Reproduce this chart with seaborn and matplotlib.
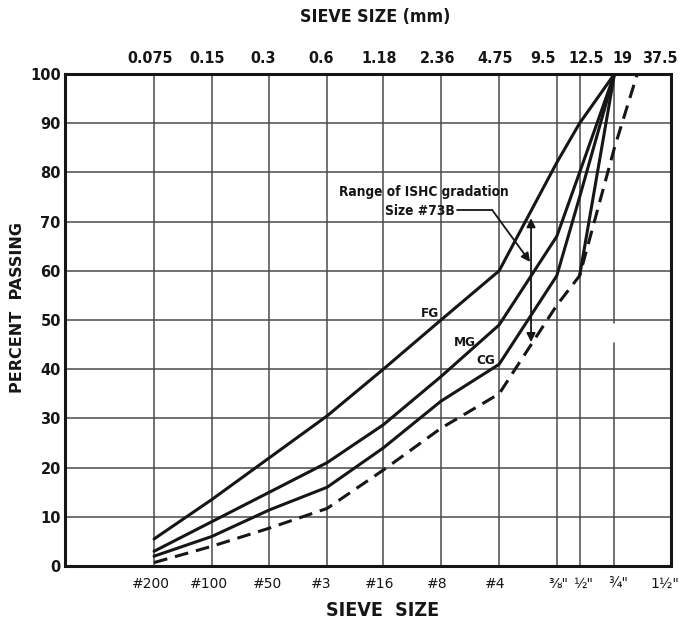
import os
import numpy as np
import pandas as pd
import matplotlib
matplotlib.use("Agg")
import matplotlib.pyplot as plt
import matplotlib.transforms as mtransforms
from matplotlib import font_manager as fm
from matplotlib.ticker import NullLocator, FixedLocator, FixedFormatter
import seaborn as sns

# ---------------- data ----------------
sieve_mm = [0.075, 0.15, 0.3, 0.6, 1.18, 2.36, 4.75, 9.5, 12.5, 19]
top_ticks = [0.075, 0.15, 0.3, 0.6, 1.18, 2.36, 4.75, 9.5, 12.5, 19, 37.5]
top_labels = ["0.075", "0.15", "0.3", "0.6", "1.18", "2.36", "4.75", "9.5", "12.5", "19", "37.5"]
bottom_labels = ["#200", "#100", "#50", "#3", "#16", "#8", "#4", "⅜\"", "½\"", "¾\"", "1½\""]
y_ticks = [0, 10, 20, 30, 40, 50, 60, 70, 80, 90, 100]

fg = [5.5, 13.5, 22, 30.5, 40, 50, 60, 82, 90, 100]
mg = [3, 9, 15, 21, 28.7, 38.5, 49, 67, 80, 100]
cg = [2, 6, 11.4, 16, 24, 33.5, 41, 59, 75, 100]
dashed_mm = [0.075, 0.15, 0.3, 0.6, 1.18, 2.36, 4.75, 9.5, 12.5, 19, 25]
dashed = [0.7, 4, 7.7, 11.7, 19.5, 28, 35, 53, 59, 85, 100]
extra_mm = [12.5, 19]
extra = [59, 100]

series_labels = ["FG", "MG", "CG"]
label_pos_mm = [2.07, 3.13, 4.03]
label_pos_val = [51.3, 45.5, 41.8]

# ---------------- style ----------------
sns.set_theme(style="white")
plt.rcParams['font.family'] = ['DejaVu Sans']
INK = '#161616'
GRID = '#4a4a4a'

# choose a narrow bold font if one is installed
prefs = ['LiberationSansNarrow-Bold.', 'NotoSans-CondensedBold.', 'NotoSans-SemiCondensedBold.',
         'DejaVuSansCondensed-Bold.', 'RobotoCondensed-Bold.', 'OpenSans_Condensed-Bold.',
         'OpenSansCondensed-Bold.', 'NotoSans-ExtraCondensedBold.']
files = [f.fname for f in fm.fontManager.ttflist]
narrow_path = None
for p in prefs:
    hits = [f for f in files if os.path.basename(f).startswith(p)]
    if hits:
        narrow_path = hits[0]
        break
if narrow_path is None:
    narrow_path = fm.findfont(fm.FontProperties(family='DejaVu Sans', weight='bold'))
NFP = fm.FontProperties(fname=narrow_path)

fig = plt.figure(figsize=(6.82, 6.26), dpi=100)
renderer = fig.canvas.get_renderer()


def fit_size(text, target_px, max_pt):
    t = fig.text(0, 0, text, fontproperties=NFP, fontsize=10)
    w = t.get_window_extent(renderer).width
    t.remove()
    return min(max_pt, 10 * target_px / w)


ax = fig.add_axes([65 / 682, 1 - 566 / 626, (671 - 65) / 682, (566 - 74) / 626])
ax.set_xscale('log')
ax.set_xlim(0.0257, 37.5)
ax.set_ylim(0, 100)

# grid
for v in y_ticks[1:-1]:
    ax.axhline(v, color=GRID, lw=1.1, zorder=1)
for s in sieve_mm:
    if s == 19:
        ax.axvline(s, ymin=0, ymax=0.453, color=GRID, lw=1.1, zorder=1)
        ax.axvline(s, ymin=0.494, ymax=1, color=GRID, lw=1.1, zorder=1)
    else:
        ax.axvline(s, color=GRID, lw=1.1, zorder=1)

# curves
for vals in (fg, mg, cg):
    df = pd.DataFrame({"mm": sieve_mm, "pct": vals})
    sns.lineplot(data=df, x="mm", y="pct", ax=ax, color=INK, lw=2.2,
                 sort=False, estimator=None, zorder=3)
df_d = pd.DataFrame({"mm": dashed_mm, "pct": dashed})
sns.lineplot(data=df_d, x="mm", y="pct", ax=ax, color=INK, lw=2.2,
             sort=False, estimator=None, zorder=3)
ax.lines[-1].set_dashes((4.5, 2.6))
df_e = pd.DataFrame({"mm": extra_mm, "pct": extra})
sns.lineplot(data=df_e, x="mm", y="pct", ax=ax, color=INK, lw=2.2,
             sort=False, estimator=None, zorder=3)

lab_size = fit_size("FG", 18, 12.5)
for t, xm, yv in zip(series_labels, label_pos_mm, label_pos_val):
    ax.text(xm, yv, t, ha='center', va='center', fontproperties=NFP,
            fontsize=lab_size, color=INK, zorder=4)

# annotation: range of ISHC gradation
ann_size = fit_size("Range of ISHC gradation", 169, 11.5)
ax.text(1.93, 76.0, "Range of ISHC gradation", ha='center', va='center',
        fontproperties=NFP, fontsize=ann_size, color=INK)
ax.text(1.84, 72.2, "Size #73B", ha='center', va='center',
        fontproperties=NFP, fontsize=ann_size, color=INK)
ax.plot([2.86, 4.36], [72.4, 72.4], color=INK, lw=1.3)
ax.annotate("", xy=(6.89, 61.8), xytext=(4.36, 72.4),
            arrowprops=dict(arrowstyle='-|>', color=INK, lw=1.3,
                            mutation_scale=13, shrinkA=0, shrinkB=0))
ax.annotate("", xy=(6.97, 45.5), xytext=(6.97, 70.7),
            arrowprops=dict(arrowstyle='<|-|>', color=INK, lw=1.3,
                            mutation_scale=13, shrinkA=0, shrinkB=0))

# axes / ticks
for sp in ax.spines.values():
    sp.set_visible(True)
    sp.set_linewidth(2.2)
    sp.set_color(INK)
ax.set_xlabel("")
ax.set_ylabel("")
ax.xaxis.set_major_locator(FixedLocator(top_ticks))
ax.xaxis.set_major_formatter(FixedFormatter(bottom_labels))
ax.xaxis.set_minor_locator(NullLocator())
ax.set_yticks(y_ticks)
ax.set_yticklabels([str(v) for v in y_ticks])
ax.tick_params(axis='x', length=0, pad=8, labelsize=10, colors=INK)
ax.tick_params(axis='y', length=0, pad=3, labelsize=10.5, colors=INK)
for lab in ax.get_yticklabels():
    lab.set_fontweight('bold')
bottom_offsets_px = [-3, -3, -2, -6, -4, -4, -4, 1, 3, 4, -6]
for lab, off in zip(ax.get_xticklabels(), bottom_offsets_px):
    lab.set_transform(lab.get_transform() +
                      mtransforms.ScaledTranslation(off / 100, 0, fig.dpi_scale_trans))

ax2 = ax.twiny()
ax2.set_xscale('log')
ax2.set_xlim(ax.get_xlim())
ax2.xaxis.set_major_locator(FixedLocator(top_ticks))
ax2.xaxis.set_major_formatter(FixedFormatter(top_labels))
ax2.xaxis.set_minor_locator(NullLocator())
ax2.tick_params(axis='x', length=0, pad=6, colors=INK)
for sp in ax2.spines.values():
    sp.set_visible(False)
top_size = fit_size("0.075", 46, 16)
top_offsets_px = [-4, -5, -6, -6, -4, -3, -4, -14, 7, 8, -11]
for lab, off in zip(ax2.get_xticklabels(), top_offsets_px):
    lab.set_fontproperties(NFP)
    lab.set_fontsize(top_size)
    lab.set_transform(lab.get_transform() +
                      mtransforms.ScaledTranslation(off / 100, 0, fig.dpi_scale_trans))

fig.text(375 / 682, 1 - 17 / 626, "SIEVE SIZE (mm)", ha='center', va='center',
         fontproperties=NFP, fontsize=fit_size("SIEVE SIZE (mm)", 150, 15), color=INK)
fig.text(383 / 682, 1 - 610 / 626, "SIEVE  SIZE", ha='center', va='center',
         fontproperties=NFP, fontsize=fit_size("SIEVE  SIZE", 113, 14.5), color=INK)
fig.text(18 / 682, 1 - 308 / 626, "PERCENT  PASSING", ha='center', va='center',
         rotation=90, fontsize=11.5, fontweight='bold', color=INK)

fig.savefig("out.png", dpi=100, facecolor='white')
